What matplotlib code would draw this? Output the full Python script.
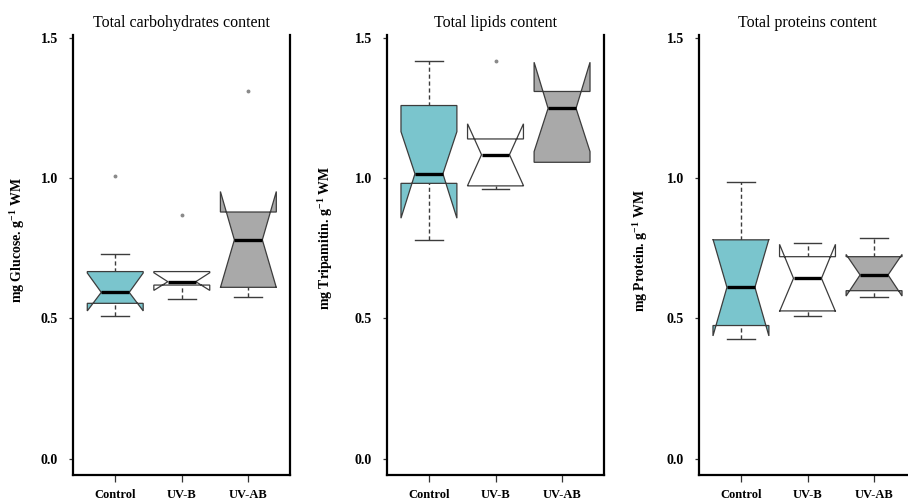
import matplotlib
matplotlib.use("Agg")
import matplotlib.pyplot as plt
import numpy as np

plt.rcParams['font.family'] = ['Liberation Serif', 'DejaVu Serif']
plt.rcParams['mathtext.fontset'] = 'custom'
plt.rcParams['mathtext.rm'] = 'Liberation Serif'
plt.rcParams['mathtext.bf'] = 'Liberation Serif:bold'

groups = ['Control', 'UV-B', 'UV-AB']
fills = ['#7AC5CD', '#FFFFFF', '#A9A9A9']

# carbohydrates
carb_q1 = [0.554, 0.619, 0.611]
carb_med = [0.593, 0.631, 0.780]
carb_q3 = [0.667, 0.667, 0.879]
carb_cilo = [0.527, 0.600, 0.610]
carb_cihi = [0.662, 0.663, 0.952]
carb_wlo = [0.510, 0.568, 0.578]
carb_whi = [0.730, 0.667, 0.879]
carb_out = [[1.008], [0.869], [1.308]]

# lipids
lip_q1 = [0.981, 0.972, 1.056]
lip_med = [1.015, 1.083, 1.248]
lip_q3 = [1.258, 1.139, 1.308]
lip_cilo = [0.857, 0.973, 1.094]
lip_cihi = [1.165, 1.193, 1.412]
lip_wlo = [0.780, 0.960, 1.056]
lip_whi = [1.417, 1.139, 1.308]
lip_out = [[], [1.417], []]

# proteins
prot_q1 = [0.475, 0.527, 0.599]
prot_med = [0.611, 0.643, 0.655]
prot_q3 = [0.780, 0.720, 0.720]
prot_cilo = [0.438, 0.525, 0.580]
prot_cihi = [0.782, 0.764, 0.728]
prot_wlo = [0.427, 0.510, 0.578]
prot_whi = [0.987, 0.768, 0.788]
prot_out = [[], [], []]

titles = ['Total carbohydrates content', 'Total lipids content', 'Total proteins content']
ylabels = ['mg Glucose. g$^{\\mathbf{-1}}$ WM',
           'mg Tripamitin. g$^{\\mathbf{-1}}$ WM',
           'mg Protein. g$^{\\mathbf{-1}}$ WM']

panels = [
    (carb_q1, carb_med, carb_q3, carb_cilo, carb_cihi, carb_wlo, carb_whi, carb_out),
    (lip_q1, lip_med, lip_q3, lip_cilo, lip_cihi, lip_wlo, lip_whi, lip_out),
    (prot_q1, prot_med, prot_q3, prot_cilo, prot_cihi, prot_wlo, prot_whi, prot_out),
]

edge = '#3c3c3c'


def notched_box(ax, x, q1, med, q3, cilo, cihi, wlo, whi, out, fill, wid=0.42, nf=0.5):
    xx = x + wid * np.array([-1, 1, 1, nf, 1, 1, -1, -1, -nf, -1])
    yy = [q1, q1, cilo, med, cihi, q3, q3, cihi, med, cilo]
    ax.fill(xx, yy, facecolor=fill, edgecolor=edge, lw=0.9, zorder=2)
    ax.plot([x - nf * wid, x + nf * wid], [med, med], color='black', lw=2.4,
            solid_capstyle='butt', zorder=3)
    if whi > q3:
        ax.plot([x, x], [q3, whi], color=edge, lw=1, ls=(0, (3, 2)), zorder=1)
        ax.plot([x - wid * 0.5, x + wid * 0.5], [whi, whi], color=edge, lw=1, zorder=1)
    if wlo < q1:
        ax.plot([x, x], [wlo, q1], color=edge, lw=1, ls=(0, (3, 2)), zorder=1)
        ax.plot([x - wid * 0.5, x + wid * 0.5], [wlo, wlo], color=edge, lw=1, zorder=1)
    if len(out):
        ax.plot([x] * len(out), out, 'o', color='#8a8a8a', ms=1.8, zorder=3)


fig = plt.figure(figsize=(9.08, 5.0), dpi=100)
lefts = [73.3, 387.0, 699.0]
W, H = 908.0, 500.0

for i in range(3):
    ax = fig.add_axes([lefts[i] / W, 1 - 475 / H, 217 / W, 440 / H])
    q1, med, q3, cilo, cihi, wlo, whi, out = panels[i]
    for j in range(3):
        notched_box(ax, j + 1, q1[j], med[j], q3[j], cilo[j], cihi[j], wlo[j], whi[j],
                    out[j], fills[j])
    ax.set_xlim(0.37, 3.63)
    ax.set_ylim(-0.057, 1.509)
    ax.set_yticks([0.0, 0.5, 1.0, 1.5])
    ax.set_yticklabels(['0.0', '0.5', '1.0', '1.5'], fontsize=10, fontweight='bold')
    ax.set_xticks([1, 2, 3])
    ax.set_xticklabels(groups, fontsize=9, fontweight='bold')
    ax.tick_params(axis='y', length=3, width=0.9, pad=8, color='#333333')
    ax.tick_params(axis='x', length=5, width=0.9, pad=5, color='#333333')
    ax.spines['top'].set_visible(False)
    for s in ['left', 'right', 'bottom']:
        ax.spines[s].set_linewidth(1.6)
    ax.set_title(titles[i], fontsize=11.5, pad=6)
    ax.set_ylabel(ylabels[i], fontsize=10, fontweight='bold')
    ax.yaxis.set_label_coords([-0.213, -0.24, -0.226][i], [0.534, 0.538, 0.51][i])

fig.savefig('out.png', dpi=100)
